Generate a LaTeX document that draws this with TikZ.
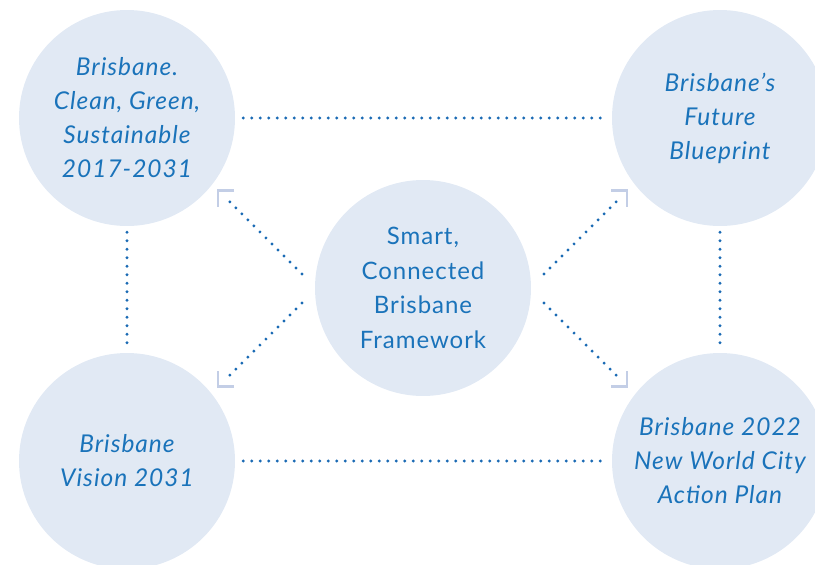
\documentclass[tikz,border=0pt]{standalone}
\usepackage{fontspec}
\setmainfont{Lato}
\newfontfamily\outerfont[LetterSpace=4]{Lato}
\newfontfamily\hubfont[LetterSpace=4]{Lato}
\definecolor{circfill}{HTML}{E1E9F4}
\definecolor{brk}{HTML}{C3CEE6}
\definecolor{txt}{HTML}{1A73BA}
\definecolor{dotc}{HTML}{1A6AB4}
\begin{document}
\begin{tikzpicture}[x=1pt,y=-1pt,
  bubble/.style={circle, fill=circfill, minimum size=216pt, inner sep=0pt, align=center, text=txt,
     font=\outerfont\fontsize{24.5}{34}\selectfont\itshape},
  hub/.style={bubble, font=\hubfont\fontsize{24}{34.5}\selectfont},
  dots/.style={draw=dotc, line width=3.2pt, line cap=round, dash pattern=on 0pt off 8.5pt},
  bracket/.style={draw=brk, line width=2.8pt}]
\useasboundingbox (0,0) rectangle (815,565);
\node[bubble] (tl) at (127,118) {Brisbane.\\Clean, Green,\\Sustainable\\2017-2031};
\node[bubble] (tr) at (720,118) {Brisbane’s\\Future\\Blueprint};
\node[bubble] (bl) at (127,461) {Brisbane\\Vision 2031};
\node[bubble] (br) at (720,461) {Brisbane 2022\\New World City\\Action Plan};
\node[hub] (c) at (423,288) {Smart,\\Connected\\Brisbane\\Framework};
% straight connectors
\draw[dots, shorten <=8pt, shorten >=6pt] (tl) -- (tr);
\draw[dots, shorten <=8pt, shorten >=6pt] (bl) -- (br);
\draw[dots, shorten <=6pt, shorten >=3pt] (tl) -- (bl);
\draw[dots, shorten <=6pt, shorten >=3pt] (tr) -- (br);
% diagonal connectors
\coordinate (a1) at (302,274); \coordinate (e1) at (227,199);
\coordinate (a2) at (302,303); \coordinate (e2) at (227,378);
\coordinate (a3) at (544,274); \coordinate (e3) at (619,199);
\coordinate (a4) at (544,303); \coordinate (e4) at (619,378);
\draw[dots] (a1) -- (e1);
\draw[dots] (a2) -- (e2);
\draw[dots] (a3) -- (e3);
\draw[dots] (a4) -- (e4);
% corner brackets
\coordinate (k1) at (218,190.5);
\coordinate (k2) at (218,386.5);
\coordinate (k3) at (627,190.5);
\coordinate (k4) at (627,386.5);
\draw[bracket] (k1) ++(16,0) -- (k1) -- ++(0,16);
\draw[bracket] (k2) ++(16,0) -- (k2) -- ++(0,-16);
\draw[bracket] (k3) ++(-16,0) -- (k3) -- ++(0,16);
\draw[bracket] (k4) ++(-16,0) -- (k4) -- ++(0,-16);
\end{tikzpicture}
\end{document}
